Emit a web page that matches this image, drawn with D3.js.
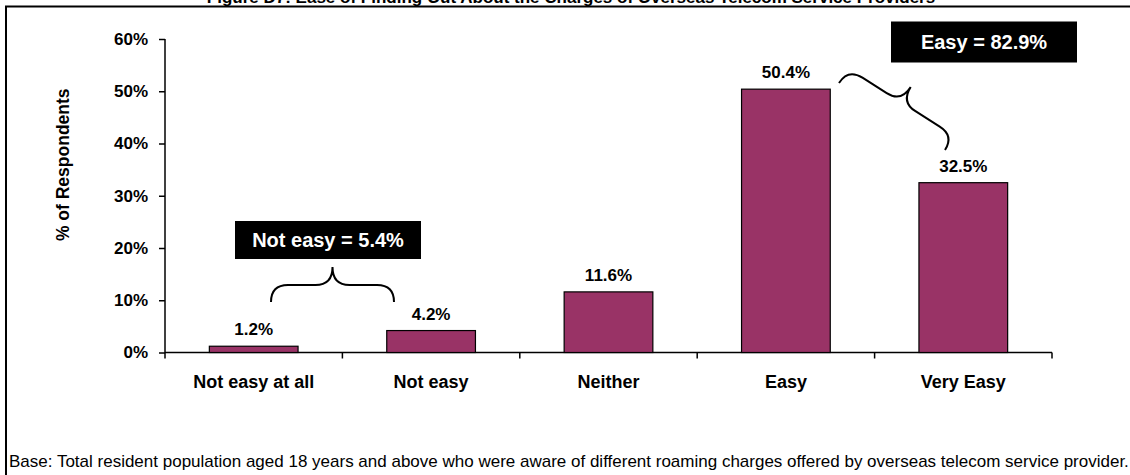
<!DOCTYPE html>
<html>
<head>
<meta charset="utf-8">
<script src="https://cdn.jsdelivr.net/npm/d3@7"></script>
<style>
  html, body { margin: 0; padding: 0; background: #fff; }
  svg { display: block; font-family: "Liberation Sans", Arial, sans-serif; }
</style>
</head>
<body>
<svg id="chart" width="1130" height="475"></svg>
<script>
// Survey answers and their shares (%)
const categories = ["Not easy at all", "Not easy", "Neither", "Easy", "Very Easy"];
const values = [1.2, 4.2, 11.6, 50.4, 32.5];
const yTicks = [0, 10, 20, 30, 40, 50, 60];
// Grouped totals shown in the black call-outs
const notEasyGroup = ["Not easy at all", "Not easy"];
const easyGroup = ["Easy", "Very Easy"];

const titleText = "Figure D7: Ease of Finding Out About the Charges of Overseas Telecom Service Providers";
const baseText = "Base: Total resident population aged 18 years and above who were aware of different roaming charges offered by overseas telecom service provider.";

const svg = d3.select("#chart");
const barColor = "#993366";

// outer frame
svg.append("rect")
  .attr("x", 6).attr("y", 6.5)
  .attr("width", 1300).attr("height", 600)
  .attr("fill", "none").attr("stroke", "#000").attr("stroke-width", 2);

// title (sits at the very top edge)
svg.append("text")
  .attr("x", 571).attr("y", 3)
  .attr("text-anchor", "middle")
  .attr("font-size", 17).attr("font-weight", "bold")
  .text(titleText);

const x = d3.scaleBand()
  .domain(categories)
  .range([165, 1052])
  .paddingInner(0.5)
  .paddingOuter(0.25);

const y = d3.scaleLinear().domain([0, 60]).range([352.5, 39]);

// y axis
const yAxis = svg.append("g")
  .attr("transform", "translate(165,0)")
  .call(d3.axisLeft(y).tickValues(yTicks).tickFormat(d => d + "%").tickSize(6).tickPadding(11));
yAxis.select(".domain").attr("d", `M0,${y(60)}V${y(0) + 6}`).attr("stroke", "#000").attr("stroke-width", 1.5);
yAxis.selectAll(".tick line").attr("stroke", "#000").attr("stroke-width", 1.5);
yAxis.selectAll(".tick text")
  .attr("font-family", "Liberation Sans, Arial, sans-serif")
  .attr("font-size", 17).attr("font-weight", "bold").attr("fill", "#000");

// x axis: baseline with ticks at category boundaries
const step = x.step();
const boundaries = categories.map((c, i) => x(c) - step * x.paddingOuter()).concat([x.range()[1]]);
svg.append("line")
  .attr("x1", 165).attr("x2", x.range()[1])
  .attr("y1", y(0)).attr("y2", y(0))
  .attr("stroke", "#000").attr("stroke-width", 1.5);
svg.selectAll(".xtick").data(boundaries.slice(1)).join("line")
  .attr("class", "xtick")
  .attr("x1", d => d).attr("x2", d => d)
  .attr("y1", y(0)).attr("y2", y(0) + 6)
  .attr("stroke", "#000").attr("stroke-width", 1.5);
svg.selectAll(".xlabel").data(categories).join("text")
  .attr("class", "xlabel")
  .attr("x", d => x(d) + x.bandwidth() / 2)
  .attr("y", 388)
  .attr("text-anchor", "middle")
  .attr("font-size", 18).attr("font-weight", "bold")
  .text(d => d);

// y axis title
svg.append("text")
  .attr("transform", `translate(69,${(y(0) + y(60)) / 2 - 31}) rotate(-90)`)
  .attr("text-anchor", "middle")
  .attr("font-size", 17.5).attr("font-weight", "bold")
  .text("% of Respondents");

// bars
svg.selectAll(".bar").data(categories).join("rect")
  .attr("class", "bar")
  .attr("x", d => x(d))
  .attr("y", (d, i) => y(values[i]))
  .attr("width", x.bandwidth())
  .attr("height", (d, i) => y(0) - y(values[i]))
  .attr("fill", barColor)
  .attr("stroke", "#000").attr("stroke-width", 1.2);

// value labels
svg.selectAll(".vlabel").data(categories).join("text")
  .attr("class", "vlabel")
  .attr("x", d => x(d) + x.bandwidth() / 2)
  .attr("y", (d, i) => y(values[i]) - 11)
  .attr("text-anchor", "middle")
  .attr("font-size", 17).attr("font-weight", "bold")
  .text((d, i) => values[i].toFixed(1) + "%");

// curly brace of given length, opening downward, tip pointing up
function bracePath(L) {
  const h = 17, t = 35, r = 17, m = L / 2;
  return `M0,0 Q0,${-h} ${r},${-h} L${m - r},${-h} Q${m},${-h} ${m},${-t} ` +
         `Q${m},${-h} ${m + r},${-h} L${L - r},${-h} Q${L},${-h} ${L},0`;
}
function drawBrace(x1, y1, x2, y2) {
  const L = Math.hypot(x2 - x1, y2 - y1);
  const ang = Math.atan2(y2 - y1, x2 - x1) * 180 / Math.PI;
  svg.append("path")
    .attr("d", bracePath(L))
    .attr("transform", `translate(${x1},${y1}) rotate(${ang})`)
    .attr("fill", "none").attr("stroke", "#000").attr("stroke-width", 2);
}

const sumOf = group => d3.sum(group, c => values[categories.indexOf(c)]);

function callout(cx, cy, w, h, label) {
  svg.append("rect")
    .attr("x", cx - w / 2).attr("y", cy - h / 2)
    .attr("width", w).attr("height", h)
    .attr("fill", "#000");
  svg.append("text")
    .attr("x", cx).attr("y", cy + 7)
    .attr("text-anchor", "middle")
    .attr("font-size", 20).attr("font-weight", "bold")
    .attr("fill", "#fff")
    .text(label);
}

drawBrace(271, 302, 394, 302);
callout(328, 240, 186, 38, "Not easy = " + sumOf(notEasyGroup).toFixed(1) + "%");

drawBrace(839, 83, 945, 150);
callout(984, 42, 186, 41, "Easy = " + sumOf(easyGroup).toFixed(1) + "%");

// base note
svg.append("text")
  .attr("x", 9).attr("y", 467)
  .attr("font-size", 17)
  .text(baseText);
</script>
</body>
</html>
